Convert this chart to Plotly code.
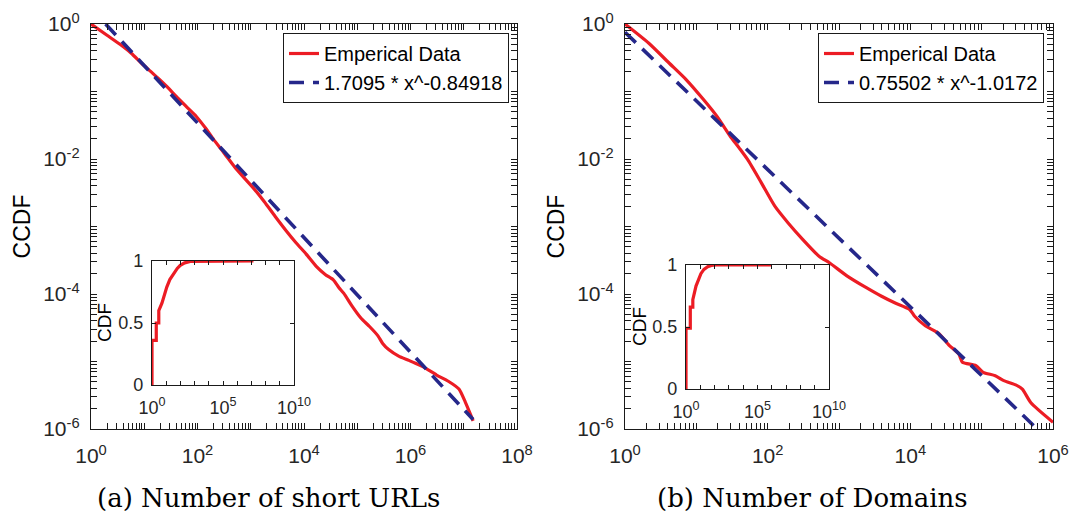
import plotly.graph_objects as go

# ---------------- data ----------------
# (a) Number of short URLs - CCDF
urls_x = [1, 2, 3.5, 5.7, 8.9, 13, 18.6, 27, 39, 60, 95, 140, 200, 320, 490, 760, 1175, 1800,
          2880, 4500, 7080, 11000, 17000, 25000, 35500, 45000, 56000, 80000, 117000, 170000,
          245000, 300000, 389000, 600000, 933000, 1.1e6, 1.7e6, 3.09e6, 5.13e6, 8.13e6,
          1.07e7, 1.5e7]
urls_ccdf = [1, 0.68, 0.5, 0.369, 0.262, 0.2, 0.155, 0.117, 0.086, 0.061, 0.0427, 0.029,
             0.0195, 0.0121, 0.00776, 0.0052, 0.00355, 0.00232, 0.00141, 8.9e-4, 5.75e-4,
             3.9e-4, 2.57e-4, 1.95e-4, 1.62e-4, 1.25e-4, 1.02e-4, 6.6e-5, 4.4e-5, 3.3e-5,
             2.4e-5, 1.85e-5, 1.5e-5, 1.2e-5, 1.04e-5, 9.8e-6, 8.4e-6, 6.3e-6, 5.1e-6, 3.9e-6,
             2.5e-6, 1.32e-6]
urls_fit_x = [1.88, 1.5e7]
urls_fit_y = [1.0, 1.38e-6]
urls_fit_name = "1.7095 * x^-0.84918"

# (a) inset CDF
urls_cdf_x = [1, 1, 2, 2, 3, 3, 5, 8, 11, 18, 33, 60, 98, 200, 490, 1.4e7]
urls_cdf_y = [0, 0.36, 0.36, 0.50, 0.50, 0.60, 0.66, 0.74, 0.79, 0.85, 0.90, 0.94, 0.965,
              0.985, 0.997, 1.0]

# (b) Number of Domains - CCDF
dom_x = [1, 2.16, 4.18, 7.24, 12.6, 19.5, 30.2, 40, 52.5, 81.3, 126, 195, 309, 525, 741, 1290,
         2450, 3890, 6030, 9770, 11500, 16200, 25100, 34700, 47900, 53700, 83200, 105000,
         155000, 204000, 300000, 372000, 490000, 1000000]
dom_ccdf = [1, 0.518, 0.262, 0.149, 0.0759, 0.0427, 0.0214, 0.0145, 0.00977, 0.00447, 0.002,
            0.00112, 6.46e-4, 3.63e-4, 2.88e-4, 1.86e-4, 1.23e-4, 9.33e-5, 7.41e-5, 5.9e-5,
            4.68e-5, 3.39e-5, 2.6e-5, 1.75e-5, 1.29e-5, 9.77e-6, 8.71e-6, 6.92e-6, 6.17e-6,
            5.2e-6, 4.5e-6, 3.89e-6, 2.45e-6, 1.26e-6]
dom_fit_x = [1, 1e6]
dom_fit_y = [0.755, 5.96e-7]
dom_fit_name = "0.75502 * x^-1.0172"

# (b) inset CDF
dom_cdf_x = [1, 1, 2, 2, 3, 3, 5, 8, 11, 18, 33, 60, 126, 9.3e5]
dom_cdf_y = [0, 0.49, 0.49, 0.66, 0.66, 0.72, 0.83, 0.89, 0.93, 0.965, 0.987, 0.996, 1.0, 1.0]

# labelled decades (exponents)
main_x_labels_a = [0, 2, 4, 6, 8]
main_x_labels_b = [0, 2, 4, 6]
main_y_labels = [-6, -4, -2, 0]
inset_x_labels = [0, 5, 10]
inset_y_ticks = [0, 0.5, 1]

captions = ["(a) Number of short URLs", "(b) Number of Domains"]
main_ylabel = "CCDF"
inset_ylabel = "CDF"


def log_ticks(lo, hi, labelled, digits=True):
    """Tick positions (1..9 x 10^k, or only decades) with labels on chosen decades."""
    vals, text = [], []
    for k in range(lo, hi + 1):
        vals.append(10.0 ** k)
        text.append("10<sup>%d</sup>" % k if k in labelled else "")
        if digits and k < hi:
            for m in range(2, 10):
                vals.append(m * 10.0 ** k)
                text.append("")
    return vals, text


RED = "#ec1c24"
BLUE = "#25278a"
AX = "#1a1a1a"
SANS = "Liberation Sans, Arial, Helvetica, sans-serif"
SERIF = "DejaVu Serif, serif"
W, H = 1074, 512


def px(x):
    return x / W


def py(y):
    return 1 - y / H


fig = go.Figure()

fig.add_trace(go.Scatter(x=urls_x, y=urls_ccdf, mode="lines", name="Emperical Data",
                         line=dict(color=RED, width=3.2, shape="spline", smoothing=0.6),
                         xaxis="x", yaxis="y", legend="legend"))
fig.add_trace(go.Scatter(x=urls_fit_x, y=urls_fit_y, mode="lines", name=urls_fit_name,
                         line=dict(color=BLUE, width=3.6, dash="15px,9px"), xaxis="x", yaxis="y",
                         legend="legend"))
fig.add_trace(go.Scatter(x=dom_x, y=dom_ccdf, mode="lines", name="Emperical Data",
                         line=dict(color=RED, width=3.2, shape="spline", smoothing=0.6),
                         xaxis="x2", yaxis="y2", legend="legend2"))
fig.add_trace(go.Scatter(x=dom_fit_x, y=dom_fit_y, mode="lines", name=dom_fit_name,
                         line=dict(color=BLUE, width=3.6, dash="15px,9px"), xaxis="x2", yaxis="y2",
                         legend="legend2"))
fig.add_trace(go.Scatter(x=urls_cdf_x, y=urls_cdf_y, mode="lines", showlegend=False,
                         line=dict(color=RED, width=3.2), xaxis="x3", yaxis="y3"))
fig.add_trace(go.Scatter(x=dom_cdf_x, y=dom_cdf_y, mode="lines", showlegend=False,
                         line=dict(color=RED, width=3.2), xaxis="x4", yaxis="y4"))

common = dict(showline=True, linecolor=AX, linewidth=1.4, mirror="allticks", ticks="inside",
              tickcolor=AX, tickwidth=1.2, showgrid=False, zeroline=False,
              automargin=False, layer="above traces")

main_font = dict(family=SANS, size=21, color="#262626")
inset_font = dict(family=SANS, size=18, color="#262626")

mainx_dom_a = [px(91), px(517)]
mainx_dom_b = [px(625), px(1053)]
main_y_dom = [py(429), py(24)]
inset_a_x = [px(152), px(294)]
inset_a_y = [py(385), py(261)]
inset_b_x = [px(686), px(829)]
inset_b_y = [py(389), py(265)]

xa_vals, xa_text = log_ticks(0, 8, main_x_labels_a)
xb_vals, xb_text = log_ticks(0, 6, main_x_labels_b)
y_vals, y_text = log_ticks(-6, 0, main_y_labels)
xi_vals, xi_text = log_ticks(0, 10, inset_x_labels, digits=False)

fig.update_layout(
    template="none",
    width=W, height=H, margin=dict(l=0, r=0, t=0, b=0, autoexpand=False),
    paper_bgcolor="white", plot_bgcolor="white",
    xaxis=dict(type="log", range=[0, 8], domain=mainx_dom_a, anchor="y",
               tickmode="array", tickvals=xa_vals, ticktext=xa_text, ticklen=6,
               tickfont=main_font, ticklabelstandoff=8, **common),
    yaxis=dict(type="log", range=[-6, 0], domain=main_y_dom, anchor="x",
               tickmode="array", tickvals=y_vals, ticktext=y_text, ticklen=6,
               tickfont=main_font, ticklabelstandoff=6,
               title=dict(text=main_ylabel, font=dict(family=SANS, size=23, color="black"),
                          standoff=6),
               **common),
    xaxis2=dict(type="log", range=[0, 6], domain=mainx_dom_b, anchor="y2",
                tickmode="array", tickvals=xb_vals, ticktext=xb_text, ticklen=6,
                tickfont=main_font, ticklabelstandoff=8, **common),
    yaxis2=dict(type="log", range=[-6, 0], domain=main_y_dom, anchor="x2",
                tickmode="array", tickvals=y_vals, ticktext=y_text, ticklen=6,
                tickfont=main_font, ticklabelstandoff=6,
                title=dict(text=main_ylabel, font=dict(family=SANS, size=23, color="black"),
                           standoff=6),
                **common),
    xaxis3=dict(type="log", range=[0, 10], domain=inset_a_x, anchor="y3",
                tickmode="array", tickvals=xi_vals, ticktext=xi_text, ticklen=4,
                tickfont=inset_font, ticklabelstandoff=6, **common),
    yaxis3=dict(range=[0, 1], domain=inset_a_y, anchor="x3",
                tickvals=inset_y_ticks, ticktext=["0", "0.5", "1"], ticklen=4,
                tickfont=inset_font, ticklabelstandoff=4, **common),
    xaxis4=dict(type="log", range=[0, 10], domain=inset_b_x, anchor="y4",
                tickmode="array", tickvals=xi_vals, ticktext=xi_text, ticklen=4,
                tickfont=inset_font, ticklabelstandoff=6, **common),
    yaxis4=dict(range=[0, 1], domain=inset_b_y, anchor="x4",
                tickvals=inset_y_ticks, ticktext=["0", "0.5", "1"], ticklen=4,
                tickfont=inset_font, ticklabelstandoff=4, **common),
    legend=dict(x=px(509), y=py(33), xanchor="right", yanchor="top",
                bgcolor="white", bordercolor=AX, borderwidth=1,
                font=dict(family=SANS, size=20, color="black"), itemwidth=30,
                tracegroupgap=0),
    legend2=dict(x=px(1044), y=py(33), xanchor="right", yanchor="top",
                 bgcolor="white", bordercolor=AX, borderwidth=1,
                 font=dict(family=SANS, size=20, color="black"), itemwidth=30,
                 tracegroupgap=0),
    annotations=[
        dict(text=captions[0], x=px(268), y=py(498), xref="paper", yref="paper",
             showarrow=False, xanchor="center", yanchor="middle",
             font=dict(family=SERIF, size=26, color="black")),
        dict(text=captions[1], x=px(812), y=py(498), xref="paper", yref="paper",
             showarrow=False, xanchor="center", yanchor="middle",
             font=dict(family=SERIF, size=26, color="black")),
        dict(text=inset_ylabel, x=px(104), y=py(323), xref="paper", yref="paper",
             showarrow=False, xanchor="center", yanchor="middle", textangle=-90,
             font=dict(family=SANS, size=19, color="black")),
        dict(text=inset_ylabel, x=px(639), y=py(327), xref="paper", yref="paper",
             showarrow=False, xanchor="center", yanchor="middle", textangle=-90,
             font=dict(family=SANS, size=19, color="black")),
    ],
)

fig.write_html(
    "out.html",
    config={"displayModeBar": False},
    post_script="document.body.style.margin='0';document.body.style.padding='0';"
                "document.body.style.overflow='hidden';",
)
